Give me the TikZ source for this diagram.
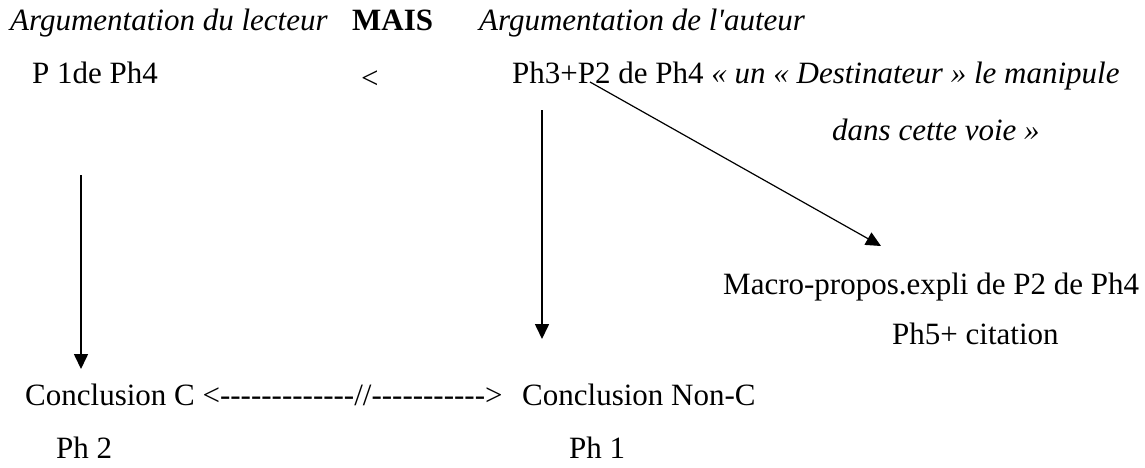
\documentclass[tikz,border=0pt]{standalone}
\usepackage{fontspec}
\setmainfont{Liberation Serif}[Ligatures=TeXOff]
\usetikzlibrary{arrows.meta}
\begin{document}
\begin{tikzpicture}[x=1pt,y=-1pt,
  txt/.style={anchor=base west,inner sep=0pt,font=\fontsize{31}{37}\selectfont},
  arr/.style={line width=1.6pt,-{Triangle[length=15pt,width=14pt]}},
  thin arr/.style={line width=1.2pt,-{Triangle[length=15pt,width=14pt]}}]
\useasboundingbox (0,0) rectangle (1145,467);
\node[txt] (t1) at (10,30) {\itshape Argumentation du lecteur};
\node[txt] (mais) at (352,30) {\bfseries MAIS};
\node[txt] (t2) at (479,30) {\itshape Argumentation de l'auteur};
\node[txt] (p1) at (32,83) {P 1de Ph4};
\node[txt] (lt) at (361,88) {<};
\node[txt] (ph3) at (512,83) {Ph3+P2 de Ph4 \textit{« un « Destinateur » le manipule}};
\node[txt] (voie) at (832,140) {\itshape dans cette voie »};
\node[txt] (macro) at (723,294) {Macro-propos.expli de P2 de Ph4};
\node[txt] (ph5) at (892,344) {Ph5+ citation};
\node[txt] (cc) at (25,405) {Conclusion C <-------------//----------->};
\node[txt] (cnc) at (522,405) {Conclusion Non-C};
\node[txt] (ph2) at (56,458) {Ph 2};
\node[txt] (ph1) at (569,458) {Ph 1};
\coordinate (a1s) at (81,175);
\coordinate (a1e) at (81,369);
\coordinate (a2s) at (542,110);
\coordinate (a2e) at (542,339);
\coordinate (a3s) at (590,82);
\coordinate (a3e) at (881,246);
\draw[arr] (a1s) -- (a1e);
\draw[arr] (a2s) -- (a2e);
\draw[thin arr] (a3s) -- (a3e);
\end{tikzpicture}
\end{document}
